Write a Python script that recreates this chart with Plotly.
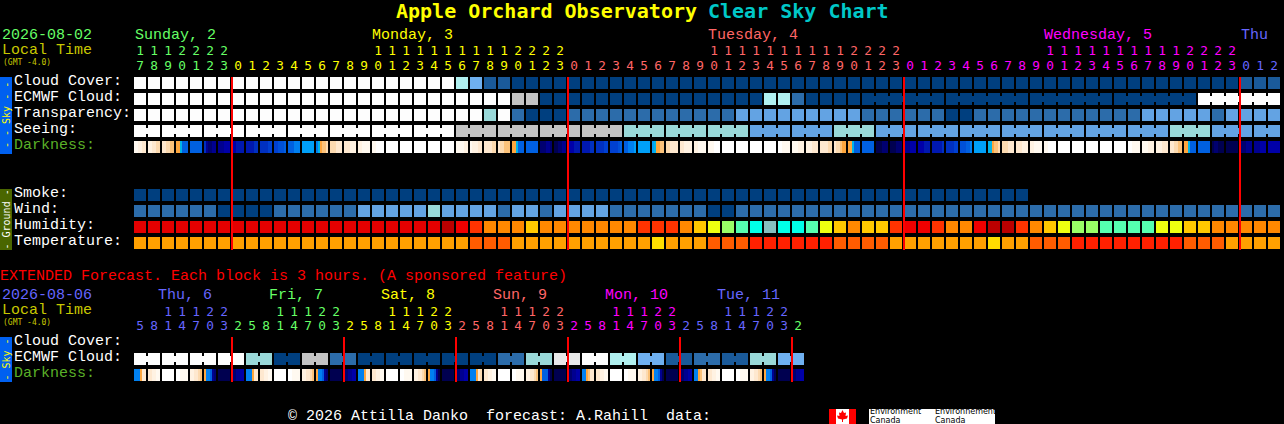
import plotly.graph_objects as go

W, H = 1284, 424
FONT = "Liberation Mono"
TITLE_FONT = "DejaVu Sans Mono"

# ---- data: forecast classes per 1-hour column (main chart) ----
HOURS_MAIN = [17,18,19,20,21,22,23,
  0,1,2,3,4,5,6,7,8,9,10,11,12,13,14,15,16,17,18,19,20,21,22,23,
  0,1,2,3,4,5,6,7,8,9,10,11,12,13,14,15,16,17,18,19,20,21,22,23,
  0,1,2,3,4,5,6,7,8,9,10,11,12,13,14,15,16,17,18,19,20,21,22,23,
  0,1,2]
CLOUD = [8,8,8,8,8,8,8,8,8,8,8,8,8,8,8,8,8,8,8,8,8,8,8,5,9,1,1,
  0,0,0,0,0,0,0,0,0,0,0,0,0,0,0,0,0,0,0,0,0,0,0,0,0,0,0,0,0,0,0,0,0,0,0,0,0,0,0,0,0,0,0,0,0,0,0,0,0,0,0,0,1,1,1]
ECMWF = [8,8,8,8,8,8,8,8,8,8,8,8,8,8,8,8,8,8,8,8,8,8,8,8,8,8,8,6,6,
  0,0,0,0,0,0,0,0,0,0,0,0,0,0,0,0,5,5,2,
  0,0,0,0,0,0,0,0,0,0,0,0,0,0,0,0,0,0,0,0,0,0,0,0,0,0,0,0,8,8,8,8,8,8]
TRANSPARENCY = [8,8,8,8,8,8,8,8,8,8,8,8,8,8,8,8,8,8,8,8,8,8,8,8,8,4,8,2,0,0,0,
  2,2,2,2,2,2,2,2,2,2,2,2,3,3,3,3,3,3,3,3,3,2,2,2,2,2,2,0,0,
  2,2,2,2,2,2,2,2,2,2,2,2,3,3,3,3,3,2,3,3,3,3]
SEEING = [8,8,8,8,8,8,8,8,8,8,8,8,8,8,8,8,8,8,8,8,8,8,8,
  6,6,6,6,6,6,6,6,6,6,6,6,4,4,4,4,4,4,4,4,4,3,3,3,3,3,3,4,4,4,
  3,3,3,3,3,3,3,3,3,3,3,3,3,3,3,3,3,3,3,3,3,4,4,4,3,3,3,3,3]
SMOKE = [0,0,0,0,0,0,0,0,0,0,0,0,0,0,0,0,0,0,0,0,0,0,0,0,0,0,0,0,0,0,0,0,
  0,0,0,0,0,0,0,0,0,0,0,0,0,0,0,0,0,0,0,0,0,0,0,0,0,0,0,0,0,0,0,0]
WIND = [2,2,2,2,2,2,0,0,0,0,2,2,2,2,2,2,3,3,3,3,3,4,3,3,3,3,2,3,3,2,3,3,3,3,
  2,2,2,2,2,2,2,0,0,2,2,2,2,2,2,2,2,2,2,2,2,2,2,2,2,2,2,2,2,2,2,2,2,2,2,2,2,2,2,2,2,2,2,2,2,2,2,2]
HUMIDITY = [1,1,1,1,1,1,1,1,1,1,1,1,1,1,1,1,1,1,1,1,1,1,0,2,3,4,4,4,5,4,4,4,4,4,4,4,
  3,3,3,4,5,6,7,8,9,10,9,9,8,6,5,4,5,5,3,2,2,3,4,4,2,0,0,3,4,5,6,7,7,8,8,8,8,6,6,5,5,4,4,4,4,4]
TEMPERATURE = [0,0,0,0,0,0,0,0,0,0,0,0,0,0,0,0,0,0,0,0,0,0,0,0,1,1,1,
  0,0,0,0,0,0,0,0,0,0,3,0,0,0,1,1,1,2,2,2,2,2,2,1,1,1,1,
  0,0,0,0,0,0,0,3,0,0,1,1,1,2,2,2,2,2,2,2,2,1,1,1,0,0,0,0]
# six samples across each column of the darkness strip
DARKNESS = ["bbccdd","ccddee","ddeeff","gghkkk","kkkkkk","nqrrqq","qqqppp","ppoooo","oooonn","nnnnmm","mmlllk",
  "kkkjjj","iiiiii","jhgffe","eeeddd","dddccc","ccbbbb","bbaaaa","aaaaaa","aaaaaa","aaaaaa","aaaaaa","aaaaaa",
  "bbbbcc","bcccdd","ddddee","deefff","gghkkk","kkkkkk","rrrqqr","ssrrqq","pppooo","oooonn","nnnnmm","mmmmlk",
  "kkjjji","iiiiii","ihggff","eedddd","ddcccc","ccbbbb","bbbaaa","aaaaaa","aaaaaa","aaaaaa","aaaaaa","aabbbb",
  "bbbccc","cccddd","ddddee","deefgg","gghkkk","kkkkkk","sssrrr","sssrrr","qqqppp","pppooo","ooooon","nnnnmm",
  "lllkkj","iiiiii","hhgffe","eeeddd","dddccc","ccbbbb","bbaaaa","aaaaaa","aaaaaa","aaaaaa","aaaaaa","aaaaaa",
  "aabbbb","bbbccc","cccddd","ddeeff","gghkkk","kkkkkk","srrsss","ssssss","rrrqqq","qqqppp","pppppp"]
# ---- data: extended chart, 3-hour columns ----
HOURS_EXT = [5,8,11,14,17,20,23,2,5,8,11,14,17,20,23,2,5,8,11,14,17,20,23,2,5,8,11,14,17,20,23,2,5,8,11,14,17,20,23,2,5,8,11,14,17,20,23,2]
ECMWF_EXT = [8,8,8,8,4,0,6,2,0,0,0,0,0,2,4,7,8,5,9,1,2,1,4,9]
DARKNESS_EXT = ["jjjgdd","ddccbb","aaaaaa","aabbbb","ccddef","gjjkqr","ssssss","rrqqpp",
  "jjjgdd","ddccbb","aaaaaa","aabbbb","ccddef","gjjkqr","ssssss","rrqqpp",
  "jjjgdd","ddccbb","aaaaaa","aabbbb","ccddef","gjjkqs","ssssss","rrqqpp",
  "jjjgde","ddccbb","aaaaaa","aabbbb","ccddef","gkkkqs","ssssss","rrqqpp",
  "jjgfdd","ddccbb","aaaaaa","aabbbb","ccddef","gjjkqs","ssssss","rrqqpp",
  "jjgfdd","ddccbb","aaaaaa","aabbbb","ccddef","gjjkqs","ssssss","rrqqpp"]
MIDNIGHT_MAIN = [7,31,55,79]
MIDNIGHT_EXT = [7,15,23,31,39,47]

# ---- palettes ----
SKY_COLORS = ["#003f7f","#1a5a9a","#2c6caa","#63a3e3","#99d8d8","#b0f0f0","#c3c3c3","#e9e9e9","#fdfdfd","#6fb0f0"]
HUM_COLORS = ["#bb0000","#e40000","#f00000","#ff3300","#ff8800","#ffc800","#eeff10","#99ff66","#55ffb0","#00ffe8","#85bfbf"]
TEMP_COLORS = ["#ffa000","#ff5c00","#ff2000","#ffdd00"]
DARK_COLORS = dict(a="#ffffff",b="#fff9f0",c="#fff2e2",d="#fee8cf",e="#fcdab0",f="#fbc27a",g="#fda63e",h="#00b4e8",
  i="#00a0f8",j="#0080f0",k="#0060e0",l="#0050d8",m="#0040d0",n="#0030c0",o="#0018b0",p="#0000a8",q="#000090",r="#000070",s="#000050")

GREEN, YELLOW, SALMON, MAGENTA, BLUE = "#66ff66","#ffff00","#ff6666","#ff00ff","#6666ff"
OLIVE = "#c8c800"

def X(px): return (px-134)/14
def Y(py): return (py-77)/16
BW, BH = 12/14, 12/16

fig = go.Figure()

def row_bars(vals, palette, top):
    fig.add_bar(x=[i+6/14 for i in range(len(vals))], y=[BH]*len(vals), base=[Y(top)]*len(vals), width=BW,
                marker=dict(color=[palette[v] for v in vals], line_width=0), hoverinfo="skip", showlegend=False)

def bridges(vals, joins, palette, top):
    inset = 3
    fig.add_bar(x=[i+13/14 for i in joins], y=[(12-2*inset)/16]*len(joins), base=[Y(top+inset)]*len(joins), width=2/14,
                marker=dict(color=[palette[vals[i]] for i in joins], line_width=0), hoverinfo="skip", showlegend=False)

def dark_bars(samples, top):
    xs, cs = [], []
    for i, s in enumerate(samples):
        for k, ch in enumerate(s):
            xs.append(i+(2*k+1)/14); cs.append(DARK_COLORS[ch])
    fig.add_bar(x=xs, y=[BH]*len(xs), base=[Y(top)]*len(xs), width=2/14,
                marker=dict(color=cs, line_width=0), hoverinfo="skip", showlegend=False)

row_bars(CLOUD, SKY_COLORS, 77)
row_bars(ECMWF, SKY_COLORS, 93)
row_bars(TRANSPARENCY, SKY_COLORS, 109)
row_bars(SEEING, SKY_COLORS, 125)
dark_bars(DARKNESS, 141)
row_bars(SMOKE, SKY_COLORS, 189)
row_bars(WIND, SKY_COLORS, 205)
row_bars(HUMIDITY, HUM_COLORS, 221)
row_bars(TEMPERATURE, TEMP_COLORS, 237)
bridges(SEEING, [i for i in range(81) if i % 3 != 1], SKY_COLORS, 125)
bridges(ECMWF, [i for i in range(52,81) if i not in (57,63,69,75)], SKY_COLORS, 93)

ecm_ext_cols = [v for v in ECMWF_EXT for _ in (0,1)]
row_bars(ecm_ext_cols, SKY_COLORS, 353)
bridges(ecm_ext_cols, list(range(0,48,2)), SKY_COLORS, 353)
dark_bars(DARKNESS_EXT, 369)

# midnight lines
lx, ly = [], []
for c in MIDNIGHT_MAIN:
    lx += [c,c,None]; ly += [Y(77),Y(250),None]
for c in MIDNIGHT_EXT:
    lx += [c,c,None]; ly += [Y(337),Y(382),None]
fig.add_scatter(x=lx, y=ly, mode="lines", line=dict(color="#ff0000", width=2), hoverinfo="skip", showlegend=False)

# hour digits
DIGIT_SIZE = 12.8
DIGIT_FONT = TITLE_FONT
def hour_digits(hours, colors, y_tens, y_units):
    xs = [i+6/14 for i in range(len(hours))]
    fig.add_scatter(x=xs, y=[Y(y_units)]*len(hours), mode="text", text=[str(h%10) for h in hours],
                    textfont=dict(family=DIGIT_FONT, size=DIGIT_SIZE, color=colors), textposition="middle center",
                    hoverinfo="skip", showlegend=False)
    fig.add_scatter(x=xs, y=[Y(y_tens)]*len(hours), mode="text", text=[str(h//10) if h>=10 else "" for h in hours],
                    textfont=dict(family=DIGIT_FONT, size=DIGIT_SIZE, color=colors), textposition="middle center",
                    hoverinfo="skip", showlegend=False)

main_colors = [GREEN]*7+[YELLOW]*24+[SALMON]*24+[MAGENTA]*24+[BLUE]*3
ext_colors = [BLUE]*7+[GREEN]*8+[YELLOW]*8+[SALMON]*8+[MAGENTA]*8+[BLUE]*8+[GREEN]
hour_digits(HOURS_MAIN, main_colors, 52, 67)
hour_digits(HOURS_EXT, ext_colors, 313, 327)

anns = []
def T(txt, px, py, color, size=15, bold=False, anchor="left", angle=0, family=FONT):
    if bold: txt = "<b>%s</b>" % txt
    anns.append(dict(x=X(px), y=Y(py), text=txt, showarrow=False, xanchor=anchor, yanchor="middle", textangle=angle,
                     font=dict(family=family, size=size, color=color), borderpad=0, borderwidth=0))

T("Apple Orchard Observatory", 396, 11, YELLOW, 20, True, family=TITLE_FONT)
T("Clear Sky Chart", 708, 11, "#00c8c8", 20, True, family=TITLE_FONT)
T("2026-08-02", 2, 35, GREEN)
T("Local Time", 2, 50, OLIVE)
T("(GMT -4.0)", 3, 62, OLIVE, 8, family=TITLE_FONT)
for t,px,c in [("Sunday, 2",135,GREEN),("Monday, 3",372,YELLOW),("Tuesday, 4",708,SALMON),("Wednesday, 5",1044,MAGENTA),("Thu",1241,BLUE)]:
    T(t,px,35,c)
for t,py,c in [("Cloud Cover:",81,"#ffffff"),("ECMWF Cloud:",97,"#ffffff"),("Transparency:",113,"#ffffff"),("Seeing:",129,"#ffffff"),
               ("Darkness:",145,"#5ab028"),("Smoke:",193,"#ffffff"),("Wind:",209,"#ffffff"),("Humidity:",225,"#ffffff"),("Temperature:",241,"#ffffff"),
               ("Cloud Cover:",341,"#ffffff"),("ECMWF Cloud:",357,"#ffffff"),("Darkness:",373,"#5ab028")]:
    T(t,14,py,c)
T("EXTENDED Forecast. Each block is 3 hours. (A sponsored feature)", 0, 276, "#ff0000")
T("2026-08-06", 2, 295, BLUE)
T("Local Time", 2, 310, OLIVE)
T("(GMT -4.0)", 3, 322, OLIVE, 8, family=TITLE_FONT)
for t,px,c in [("Thu, 6",158,BLUE),("Fri, 7",269,GREEN),("Sat, 8",381,YELLOW),("Sun, 9",493,SALMON),("Mon, 10",605,MAGENTA),("Tue, 11",717,BLUE)]:
    T(t,px,295,c)
T("© 2026 Attilla Danko  forecast: A.Rahill  data:", 288, 416, "#ffffff")
T("- - Sky - -", 6, 115, "#ffff00", 10, angle=-90, anchor="center", family=TITLE_FONT)
T("- Ground -", 6, 219.5, "#ffffff", 10, angle=-90, anchor="center", family=TITLE_FONT)
T("- Sky -", 6, 359.5, "#ffff00", 10, angle=-90, anchor="center", family=TITLE_FONT)
T("Environment", 870, 411.5, "#000000", 8, family="DejaVu Sans")
T("Canada", 870, 420.5, "#000000", 8, family="DejaVu Sans")
T("Environnement", 935, 411.5, "#000000", 8, family="DejaVu Sans")
T("Canada", 935, 420.5, "#000000", 8, family="DejaVu Sans")

def rect(x0,y0,x1,y1,color):
    return dict(type="rect", xref="x", yref="y", x0=X(x0), x1=X(x1), y0=Y(y0), y1=Y(y1), fillcolor=color, line_width=0, layer="below")
shapes = [rect(0,77,12,154,"#0060f0"), rect(0,189,12,250,"#4a6600"), rect(0,337,12,382,"#0060f0"),
          rect(829,409,856,424,"#ffffff"), rect(829,409,836,424,"#ff0000"), rect(849,409,856,424,"#ff0000"),
          rect(869,409,995,424,"#ffffff")]
leaf = [(842.5,410),(844,413),(846,412.5),(845.5,416),(848,415.5),(847,418.5),(843,419.5),(843,422),(842,422),(842,419.5),(838,418.5),(837,415.5),(839.5,416),(839,412.5),(841,413)]
shapes.append(dict(type="path", xref="x", yref="y", fillcolor="#ff0000", line_width=0,
                   path="M "+" L ".join("%f,%f"%(X(a),Y(b)) for a,b in leaf)+" Z"))

fig.update_layout(width=W, height=H, margin=dict(l=0,r=0,t=0,b=0,pad=0), paper_bgcolor="#000000", plot_bgcolor="#000000",
    barmode="overlay", showlegend=False, annotations=anns, shapes=shapes,
    xaxis=dict(visible=False, range=[X(0),X(W)], fixedrange=True),
    yaxis=dict(visible=False, range=[Y(H),Y(0)], fixedrange=True))

fig.write_html("out.html", config=dict(displayModeBar=False, responsive=False),
               post_script="document.body.style.margin='0';document.body.style.background='#000';document.documentElement.style.overflow='hidden';")
